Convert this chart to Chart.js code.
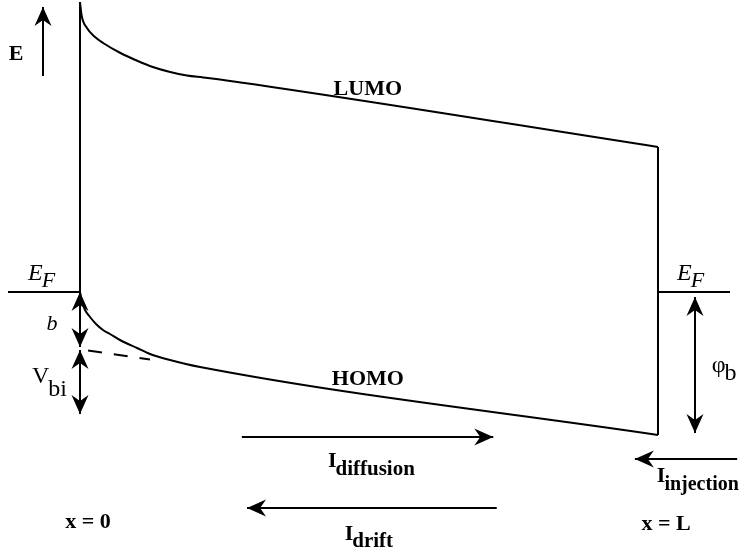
<!DOCTYPE html>
<html>
<head>
<meta charset="utf-8">
<script src="https://cdn.jsdelivr.net/npm/chart.js@4.4.1/dist/chart.umd.min.js"></script>
<style>
  html, body { margin: 0; padding: 0; background: #fff; }
  #wrap { width: 744px; height: 554px; }
</style>
</head>
<body>
<div id="wrap"><canvas id="band" width="744" height="554"></canvas></div>
<script>
// position across the device (L = 100), energy relative to E_F (arb. units)
const lumoX = [0, 0.3, 1.2, 2.6, 4, 7, 10, 12.6, 15.6, 18.5, 21.3, 26, 100];
const lumoE = [2.90, 2.76, 2.64, 2.55, 2.49, 2.39, 2.31, 2.25, 2.20, 2.165, 2.145, 2.11, 1.45];
const homoX = [0, 0.35, 0.87, 1.73, 2.77, 3.98, 5.19, 6.92, 9.86, 12.11, 15.57, 20.76, 100];
const homoE = [0, -0.10, -0.18, -0.25, -0.32, -0.38, -0.42, -0.48, -0.56, -0.62, -0.68, -0.75, -1.43];
const homoExtX = [1.4, 12.1];
const homoExtE = [-0.584, -0.676];
const deviceL = 100;
const barrierB = 0.55;
const vbiTop = -0.58, vbiBottom = -1.22;
const phiB = [-0.05, -1.41];

const toPts = (xs, ys) => xs.map((x, i) => ({ x: x, y: ys[i] }));

const line = (data, extra) => Object.assign({
  data: data,
  showLine: true,
  borderColor: '#000',
  borderWidth: 2,
  pointRadius: 0,
  fill: false,
  clip: false,
  cubicInterpolationMode: 'monotone'
}, extra || {});

const SERIF = '"Liberation Serif", "DejaVu Serif", serif';

function arrowHead(ctx, x1, y1, x2, y2) {
  const a = Math.atan2(y2 - y1, x2 - x1);
  const len = 19, half = 8.5, notch = 13;
  ctx.save();
  ctx.translate(x2, y2);
  ctx.rotate(a);
  ctx.beginPath();
  ctx.moveTo(0, 0);
  ctx.lineTo(-len, -half);
  ctx.lineTo(-notch, 0);
  ctx.lineTo(-len, half);
  ctx.closePath();
  ctx.fill();
  ctx.restore();
}

function arrow(ctx, x1, y1, x2, y2, both) {
  ctx.beginPath();
  ctx.moveTo(x1, y1);
  ctx.lineTo(x2, y2);
  ctx.stroke();
  arrowHead(ctx, x1, y1, x2, y2);
  if (both) arrowHead(ctx, x2, y2, x1, y1);
}

// [text, x, y, align, font, sub, subY, subFont]
const labels = [
  ['E', -11.07, 2.32, 'center', 'bold 22px'],
  ['E', -8.99, 0.12, 'left', 'italic 24px', 'F', 0.05, 'italic 22px'],
  ['E', 103.3, 0.12, 'left', 'italic 24px', 'F', 0.05, 'italic 22px'],
  ['b', -4.84, -0.38, 'center', 'italic 22px'],
  ['V', -8.3, -0.91, 'left', '24px', 'bi', -1.04, '24px'],
  ['\u03C6', 109.3, -0.80, 'left', '24px', 'b', -0.88, '24px'],
  ['LUMO', 49.8, 1.97, 'center', 'bold 22px'],
  ['HOMO', 49.8, -0.93, 'center', 'bold 22px'],
  ['I', 42.9, -1.75, 'left', 'bold 22px', 'diffusion', -1.83, 'bold 21px'],
  ['I', 45.8, -2.48, 'left', 'bold 22px', 'drift', -2.55, 'bold 21px'],
  ['I', 99.8, -1.90, 'left', 'bold 22px', 'injection', -1.98, 'bold 20px'],
  ['x = 0', 1.38, -2.36, 'center', 'bold 22px'],
  ['x = L', 101.4, -2.38, 'center', 'bold 22px']
];

const annotations = {
  id: 'annotations',
  afterDatasetsDraw(chart) {
    const ctx = chart.ctx;
    const sx = chart.scales.x, sy = chart.scales.y;
    const X = v => sx.getPixelForValue(v);
    const Y = v => sy.getPixelForValue(v);
    ctx.save();
    ctx.strokeStyle = '#000';
    ctx.fillStyle = '#000';
    ctx.lineWidth = 2;
    // energy axis arrow
    arrow(ctx, X(-6.4), Y(2.16), X(-6.4), Y(2.85), false);
    // b and V_bi at x = 0
    arrow(ctx, X(0), Y(0), X(0), Y(-barrierB), true);
    arrow(ctx, X(0), Y(vbiTop), X(0), Y(vbiBottom), true);
    // phi_b at right contact
    arrow(ctx, X(106.4), Y(phiB[0]), X(106.4), Y(phiB[1]), true);
    // currents
    arrow(ctx, X(28.0), Y(-1.45), X(71.5), Y(-1.45), false);
    arrow(ctx, X(72.1), Y(-2.16), X(28.9), Y(-2.16), false);
    arrow(ctx, X(113.7), Y(-1.67), X(96.0), Y(-1.67), false);

    ctx.textBaseline = 'alphabetic';
    labels.forEach(l => {
      const [txt, x, y, align, font, sub, subY, subFont] = l;
      ctx.font = font + ' ' + SERIF;
      ctx.textAlign = align;
      const px = X(x);
      ctx.fillText(txt, px, Y(y));
      if (sub) {
        const w = ctx.measureText(txt).width;
        ctx.font = subFont + ' ' + SERIF;
        ctx.textAlign = 'left';
        ctx.fillText(sub, px + w - 1, Y(subY));
      }
    });
    ctx.restore();
  }
};

new Chart(document.getElementById('band'), {
  type: 'scatter',
  data: {
    datasets: [
      line(toPts(lumoX, lumoE), { label: 'LUMO' }),
      line(toPts(homoX, homoE), { label: 'HOMO' }),
      line(toPts(homoExtX, homoExtE), { label: 'HOMO extrapolated', borderDash: [14, 12] }),
      line([{ x: 0, y: lumoE[0] }, { x: 0, y: 0 }], { label: 'left contact' }),
      line([{ x: deviceL, y: lumoE[lumoE.length - 1] }, { x: deviceL, y: homoE[homoE.length - 1] }], { label: 'right contact' }),
      line([{ x: -12.46, y: 0 }, { x: 0, y: 0 }], { label: 'E_F left' }),
      line([{ x: deviceL, y: 0 }, { x: 112.46, y: 0 }], { label: 'E_F right' })
    ]
  },
  options: {
    responsive: false,
    animation: false,
    events: [],
    layout: { padding: 0 },
    plugins: { legend: { display: false }, tooltip: { enabled: false } },
    scales: {
      x: { type: 'linear', min: -13.84, max: 114.88, display: false },
      y: { type: 'linear', min: -2.62, max: 2.92, display: false }
    }
  },
  plugins: [annotations]
});
</script>
</body>
</html>
